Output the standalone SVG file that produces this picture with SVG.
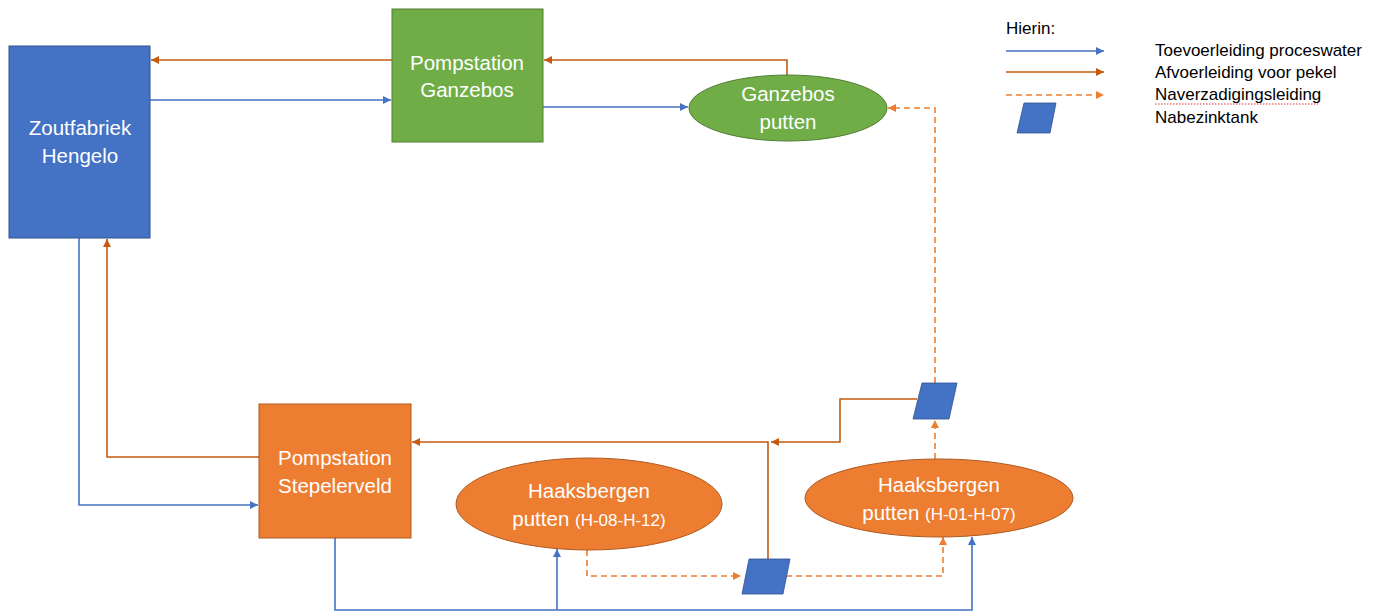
<svg xmlns="http://www.w3.org/2000/svg" width="1381" height="612" viewBox="0 0 1381 612">
<style>
.node text{font-family:"Liberation Sans",Arial,sans-serif;font-size:20.5px;fill:#fff;text-anchor:middle}
.leg{font-family:"Liberation Sans",Arial,sans-serif;font-size:17px;fill:#000}
.blue{fill:#4472C4;stroke:#2F528F;stroke-width:1}
.green{fill:#70AD47;stroke:#507E32;stroke-width:1}
.orange{fill:#ED7D31;stroke:#AE5A21;stroke-width:1}
.tank{fill:#4472C4;stroke:#2F528F;stroke-width:0.8}
.cb{fill:none;stroke:#4472C4;stroke-width:1.6;marker-end:url(#ab)}
.co{fill:none;stroke:#C55A11;stroke-width:1.6;marker-end:url(#ao)}
.cd{fill:none;stroke:#ED7D31;stroke-width:1.6;stroke-dasharray:6,4;marker-end:url(#ad)}
.nm{fill:none;stroke-width:1.6}
</style>
<defs>
<marker id="ab" markerUnits="userSpaceOnUse" markerWidth="9" markerHeight="8" refX="8" refY="4" orient="auto"><path d="M0,0 L8,4 L0,8 Z" fill="#4472C4"/></marker>
<marker id="ao" markerUnits="userSpaceOnUse" markerWidth="9" markerHeight="8" refX="8" refY="4" orient="auto"><path d="M0,0 L8,4 L0,8 Z" fill="#C55A11"/></marker>
<marker id="ad" markerUnits="userSpaceOnUse" markerWidth="9" markerHeight="8" refX="8" refY="4" orient="auto"><path d="M0,0 L8,4 L0,8 Z" fill="#ED7D31"/></marker>
</defs>
<rect width="1381" height="612" fill="#fff"/>

<g id="connectors">
<path class="co" d="M392,60 H151"/>
<path class="cb" d="M150,100 H391"/>
<path class="cb" d="M543,107 H688"/>
<path class="co" d="M787,75 V60 H544"/>
<path class="cd" d="M935,383 V108 H888"/>
<path class="co" d="M259,457 H107 V239"/>
<path class="cb" d="M79,238 V505 H258"/>
<path class="co" d="M917,399 H840 V442 H771"/>
<path class="co" d="M768,559 V442 H412"/>
<path class="cd" d="M935,459 V420"/>
<path class="cd" d="M587,550 V576 H741"/>
<path class="cd" d="M786,576 H943 V537"/>
<path class="cb" d="M335,538 V610 H972 V537"/>
<path class="cb" d="M557,610 V549"/>
</g>

<g id="zoutfabriek" class="node">
<rect class="blue" x="9" y="46" width="141" height="192"/>
<text x="80" y="135">Zoutfabriek</text>
<text x="80" y="163">Hengelo</text>
</g>

<g id="pompstation-ganzebos" class="node">
<rect class="green" x="392" y="9" width="151" height="133"/>
<text x="467" y="70">Pompstation</text>
<text x="467" y="97">Ganzebos</text>
</g>

<g id="ganzebos-putten" class="node">
<ellipse class="green" cx="788" cy="108" rx="99" ry="33"/>
<text x="788" y="101">Ganzebos</text>
<text x="788" y="129">putten</text>
</g>

<g id="pompstation-stepelerveld" class="node">
<rect class="orange" x="259" y="404" width="152" height="134"/>
<text x="335" y="465">Pompstation</text>
<text x="335" y="493">Stepelerveld</text>
</g>

<g id="haaksbergen-l" class="node">
<ellipse class="orange" cx="589" cy="504" rx="133" ry="46"/>
<text x="589" y="498">Haaksbergen</text>
<text x="589" y="526">putten <tspan font-size="17">(H-08-H-12)</tspan></text>
</g>

<g id="haaksbergen-r" class="node">
<ellipse class="orange" cx="939" cy="498" rx="134" ry="39"/>
<text x="939" y="492">Haaksbergen</text>
<text x="939" y="520">putten <tspan font-size="17">(H-01-H-07)</tspan></text>
</g>

<g id="tank-1">
<polygon class="tank" points="922,383 957,383 949,419 913,419"/>
</g>

<g id="tank-2">
<polygon class="tank" points="749,559 790,559 783,594 742,594"/>
</g>

<g id="legend">
<text class="leg" x="1006" y="34">Hierin:</text>
<path class="nm" stroke="#4472C4" d="M1006,51 H1104" marker-end="url(#ab)"/>
<path class="nm" stroke="#C55A11" d="M1006,72 H1104" marker-end="url(#ao)"/>
<path class="nm" stroke="#ED7D31" stroke-dasharray="6,4" d="M1006,95 H1104" marker-end="url(#ad)"/>
<polygon class="tank" points="1024,103 1056,103 1050,133 1017,133"/>
<text class="leg" x="1155" y="56">Toevoerleiding proceswater</text>
<text class="leg" x="1155" y="78">Afvoerleiding voor pekel</text>
<text class="leg" x="1155" y="100">Naverzadigingsleiding</text>
<path d="M1155,104 H1318" fill="none" stroke="#E03030" stroke-width="1" stroke-dasharray="1.5,1.5"/>
<text class="leg" x="1155" y="123">Nabezinktank</text>
</g>
</svg>
